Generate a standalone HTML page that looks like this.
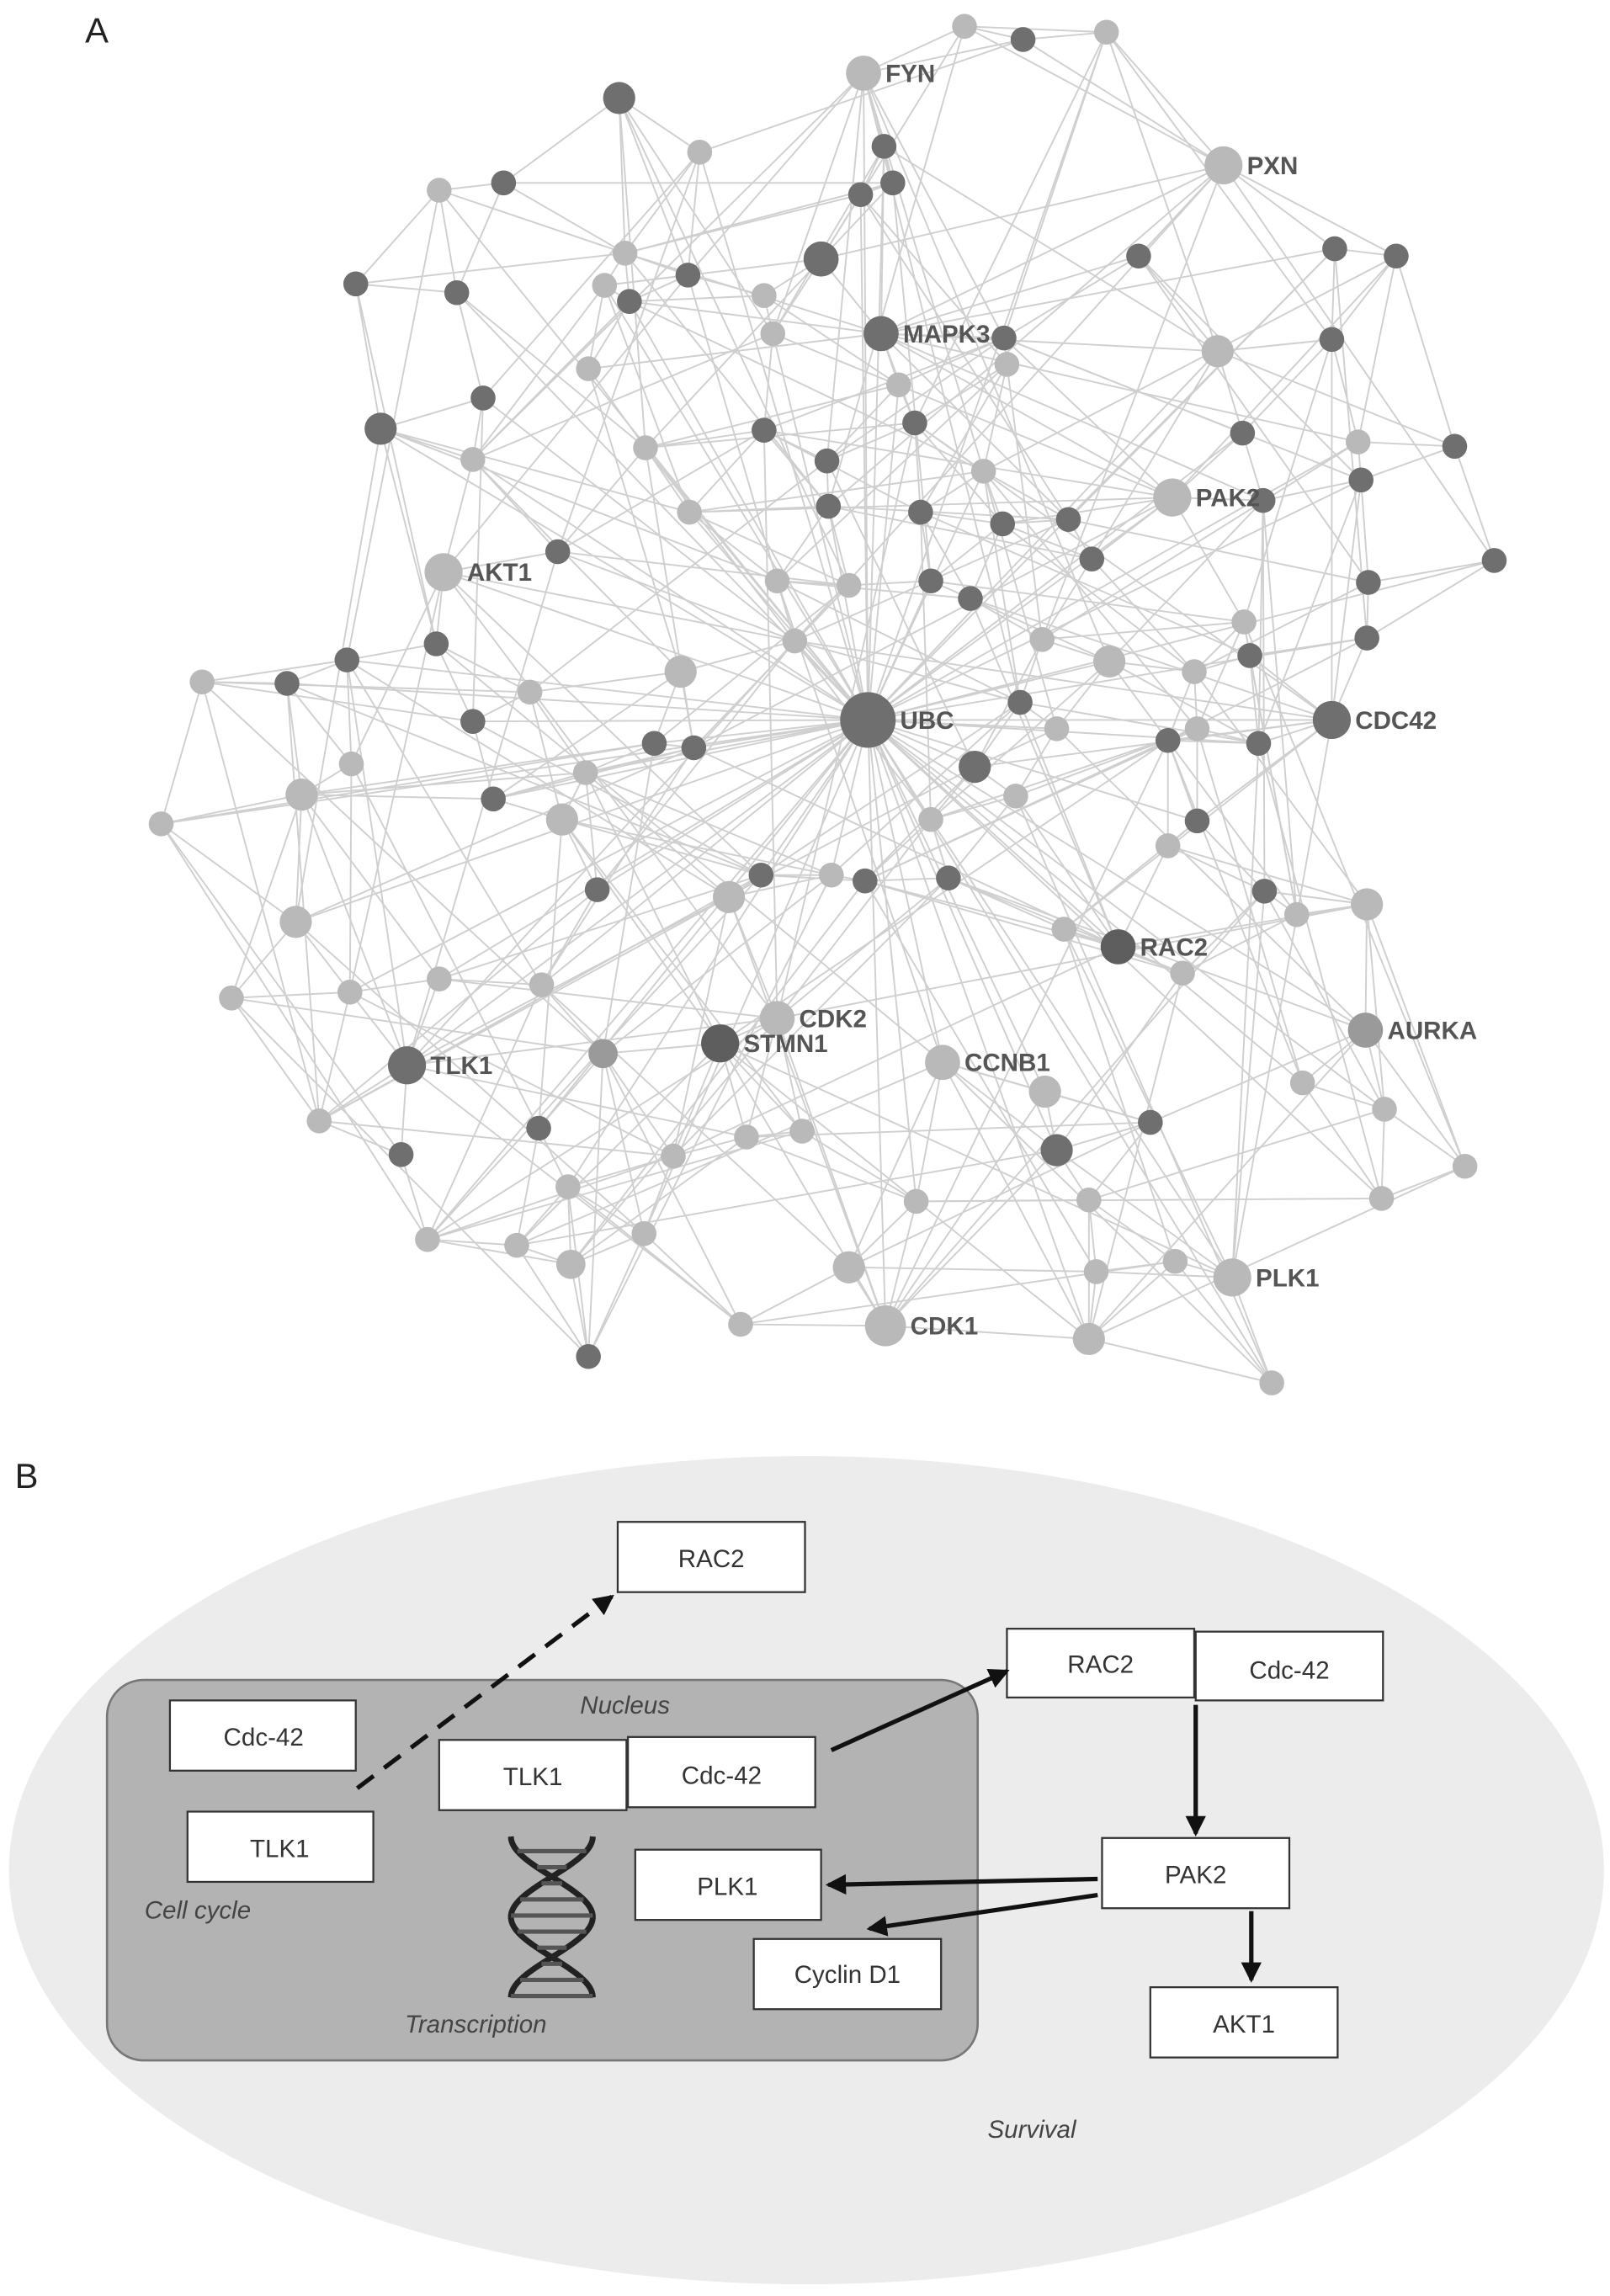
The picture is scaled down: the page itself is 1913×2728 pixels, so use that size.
<!DOCTYPE html>
<html><head><meta charset="utf-8"><style>
html,body{margin:0;padding:0;background:#fff;}
svg{display:block;}
text{font-family:"Liberation Sans",sans-serif;}
</style></head><body>
<svg id="s" width="1913" height="2728" viewBox="0 0 1100 1569" xmlns="http://www.w3.org/2000/svg">
<text x="58" y="29" font-size="24" fill="#222">A</text>
<g id="edges" stroke="#cfcfcf" stroke-width="1.1"></g>
<g id="nodes"></g>
<g id="labels" font-size="17" font-weight="bold" fill="#555"></g>

<text x="10" y="1017" font-size="24" fill="#222">B</text>
<ellipse cx="551" cy="1278" rx="545" ry="283" fill="#ececec"/>
<rect x="73" y="1148" width="595" height="260" rx="25" fill="#b3b3b3" stroke="#777" stroke-width="1.5"/>
<g fill="#fff" stroke="#333" stroke-width="1.3">
<rect x="422" y="1040" width="128" height="48"/>
<rect x="688" y="1113" width="128" height="47"/>
<rect x="817" y="1115" width="128" height="47"/>
<rect x="116" y="1162" width="127" height="48"/>
<rect x="300" y="1189" width="128" height="48"/>
<rect x="429" y="1187" width="128" height="48"/>
<rect x="128" y="1238" width="127" height="48"/>
<rect x="434" y="1264" width="127" height="48"/>
<rect x="753" y="1256" width="128" height="48"/>
<rect x="515" y="1325" width="128" height="48"/>
<rect x="786" y="1358" width="128" height="48"/>
</g>
<g font-size="17" fill="#333" text-anchor="middle">
<text x="486" y="1071">RAC2</text>
<text x="752" y="1143">RAC2</text>
<text x="881" y="1147">Cdc-42</text>
<text x="180" y="1193">Cdc-42</text>
<text x="364" y="1220">TLK1</text>
<text x="493" y="1219">Cdc-42</text>
<text x="191" y="1269">TLK1</text>
<text x="497" y="1295">PLK1</text>
<text x="817" y="1287">PAK2</text>
<text x="579" y="1355">Cyclin D1</text>
<text x="850" y="1389">AKT1</text>
</g>
<g font-size="17" fill="#444" font-style="italic" text-anchor="middle">
<text x="427" y="1171">Nucleus</text>
<text x="135" y="1311">Cell cycle</text>
<text x="325" y="1389">Transcription</text>
<text x="705" y="1461">Survival</text>
</g>
<defs><marker id="ah" markerWidth="8" markerHeight="8" refX="6" refY="4" orient="auto" markerUnits="userSpaceOnUse"><path d="M0,0 L0,0 L8,4 L0,8 z" fill="#111"/></marker>
<marker id="a2" markerWidth="14" markerHeight="14" refX="12" refY="7" orient="auto" markerUnits="userSpaceOnUse"><path d="M0,0 L14,7 L0,14 z" fill="#111"/></marker></defs>
<g stroke="#111" stroke-width="3" fill="none" marker-end="url(#a2)">
<line x1="244" y1="1222" x2="418" y2="1091" stroke-dasharray="14,9"/>
<line x1="568" y1="1196" x2="688" y2="1142"/>
<line x1="817" y1="1165" x2="817" y2="1253"/>
<line x1="750" y1="1284" x2="566" y2="1288"/>
<line x1="750" y1="1295" x2="594" y2="1318"/>
<line x1="855" y1="1306" x2="855" y2="1353"/>
</g>
<g id="dna" stroke="#222" stroke-width="4" fill="none"></g>
</svg>
<script>
var N=[
["FYN",590,50,12,"l"],["PXN",836,113,13,"l"],["MAPK3",602,228,12,"d"],["PAK2",801,340,13,"l"],["AKT1",303,391,13,"l"],["UBC",593,492,19,"d"],["CDC42",910,492,13,"d"],["RAC2",764,647,12,"x"],["AURKA",933,704,12,"m"],["TLK1",278,728,13,"d"],["STMN1",492,713,13,"x"],["CDK2",531,696,12,"l"],["CCNB1",644,726,12,"l"],["PLK1",842,873,13,"l"],["CDK1",605,906,14,"l"]];
var O=[[659,18,"l"],[699,27,"d"],[756,22,"l"],[423,67,"d",11],[604,100,"d"],[610,125,"d"],[588,133,"d"],[478,104,"l"],[300,130,"l"],[344,125,"d"],[427,173,"l"],[470,188,"d"],[413,195,"l"],[430,206,"d"],[561,177,"d",12],[522,202,"l"],[528,228,"l"],[312,200,"d"],[243,194,"d"],[260,293,"d",11],[330,272,"d"],[402,252,"l"],[323,314,"l"],[441,306,"l"],[522,294,"d"],[565,315,"d"],[566,346,"d"],[614,263,"l"],[625,289,"d"],[688,249,"l"],[686,231,"d"],[629,350,"d"],[672,322,"l"],[685,358,"d"],[730,355,"d"],[746,382,"d"],[636,397,"d"],[663,409,"d"],[580,400,"l"],[531,397,"l"],[471,350,"l"],[381,377,"d"],[298,440,"d"],[237,451,"d"],[196,467,"d"],[138,466,"l"],[240,522,"l"],[206,543,"l",11],[110,563,"l"],[323,493,"d"],[362,473,"l"],[465,459,"l",11],[400,528,"l"],[447,508,"d"],[474,511,"d"],[543,438,"l"],[337,546,"d"],[384,560,"l",11],[408,608,"d"],[498,613,"l",11],[520,598,"d"],[568,598,"l"],[591,602,"d"],[648,600,"d"],[636,560,"l"],[666,524,"d",11],[694,544,"l"],[697,480,"d"],[722,498,"l"],[712,437,"l"],[758,452,"l",11],[798,506,"d"],[818,498,"l"],[816,459,"l"],[854,448,"d"],[850,425,"l"],[934,436,"d"],[935,398,"d"],[930,328,"d"],[928,302,"l"],[994,305,"d"],[1021,383,"d"],[849,296,"d"],[863,342,"d"],[832,240,"l",11],[910,232,"d"],[912,170,"d"],[954,175,"d"],[778,175,"d"],[860,508,"d"],[818,561,"d"],[798,578,"l"],[864,609,"d"],[886,625,"l"],[934,618,"l",11],[727,635,"l"],[808,665,"l"],[202,630,"l",11],[158,682,"l"],[239,678,"l"],[300,669,"l"],[370,673,"l"],[412,720,"m",10],[218,766,"l"],[274,789,"d"],[292,847,"l"],[353,851,"l"],[368,771,"d"],[388,811,"l"],[440,843,"l"],[390,864,"l",10],[402,927,"d"],[460,790,"l"],[510,777,"l"],[548,773,"l"],[580,866,"l",11],[626,821,"l"],[506,905,"l"],[714,746,"l",11],[722,786,"d",11],[786,767,"d"],[744,820,"l"],[749,869,"l"],[803,862,"l"],[744,915,"l",11],[869,945,"l"],[890,740,"l"],[946,758,"l"],[944,819,"l"],[1001,797,"l"]];
var all=N.map(function(n){return {x:n[1],y:n[2],r:n[3],c:n[4],lab:n[0]}});
O.forEach(function(o){all.push({x:o[0],y:o[1],r:o[3]||8.5,c:o[2]})});
var seed=12345;function rnd(){seed=(seed*1103515245+12345)%2147483648;return seed/2147483648;}
var E={},el=[];
function add(a,b){if(a==b)return;var k=a<b?a+"_"+b:b+"_"+a;if(E[k])return;E[k]=1;el.push([a,b]);}
function d(a,b){var dx=all[a].x-all[b].x,dy=all[a].y-all[b].y;return Math.sqrt(dx*dx+dy*dy);}
for(var i=0;i<all.length;i++){
 var idx=[];for(var j=0;j<all.length;j++)if(j!=i)idx.push(j);
 idx.sort(function(a,b){return d(i,a)-d(i,b)});
 for(var k=0;k<3;k++)add(i,idx[k]);
 for(var t=0;t<2;t++){var j2=idx[Math.floor(rnd()*Math.min(40,idx.length))];add(i,j2);}
}
for(var t=0;t<70;t++)add(5,Math.floor(rnd()*all.length));
for(var h=0;h<15;h++)for(var t=0;t<8;t++){var j=Math.floor(rnd()*all.length);if(d(h,j)<450)add(h,j);}
var ns="http://www.w3.org/2000/svg";
var eg=document.getElementById("edges");
el.forEach(function(e){var l=document.createElementNS(ns,"line");l.setAttribute("x1",all[e[0]].x);l.setAttribute("y1",all[e[0]].y);l.setAttribute("x2",all[e[1]].x);l.setAttribute("y2",all[e[1]].y);eg.appendChild(l);});
var col={l:"#b9b9b9",m:"#9a9a9a",d:"#6f6f6f",x:"#5e5e5e"};
var ng=document.getElementById("nodes");
all.forEach(function(n){var c=document.createElementNS(ns,"circle");c.setAttribute("cx",n.x);c.setAttribute("cy",n.y);c.setAttribute("r",n.r);c.setAttribute("fill",col[n.c]);ng.appendChild(c);});
var lg=document.getElementById("labels");
all.slice(0,15).forEach(function(n){var t=document.createElementNS(ns,"text");t.setAttribute("x",n.x+n.r+3);t.setAttribute("y",n.y+6);t.textContent=n.lab;lg.appendChild(t);});
var dg=document.getElementById("dna");
var p1="",p2="";
for(var y=1255;y<=1365;y+=2){var s=Math.sin((y-1255)/110*2*Math.PI+Math.PI/2)*28;p1+=(y==1255?"M":"L")+(377+s)+","+y;p2+=(y==1255?"M":"L")+(377-s)+","+y;}
[p1,p2].forEach(function(p){var e=document.createElementNS(ns,"path");e.setAttribute("d",p);dg.appendChild(e);});
for(var y=1265;y<1365;y+=11){var s=Math.sin((y-1255)/110*2*Math.PI+Math.PI/2)*28;var l=document.createElementNS(ns,"line");l.setAttribute("x1",377-Math.abs(s));l.setAttribute("x2",377+Math.abs(s));l.setAttribute("y1",y);l.setAttribute("y2",y);l.setAttribute("stroke","#555");l.setAttribute("stroke-width","3");dg.appendChild(l);}
</script>
</body></html>
